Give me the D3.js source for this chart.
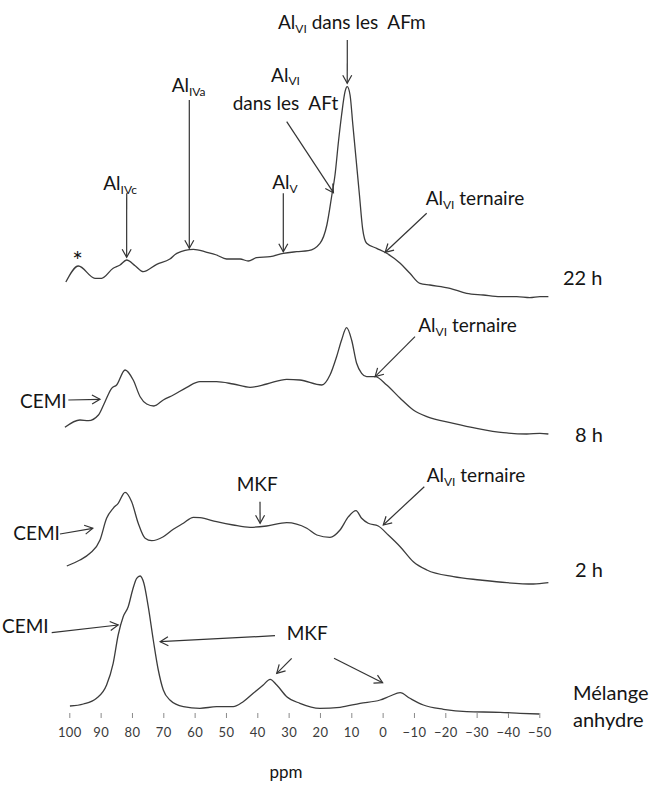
<!DOCTYPE html>
<html>
<head>
<meta charset="utf-8">
<script src="https://cdn.jsdelivr.net/npm/d3@7"></script>
<style>
  body { margin: 0; background: #fff; }
  svg text { font-family: Lato, "Noto Sans", sans-serif; fill: #151515; white-space: pre; }
</style>
</head>
<body>
<svg id="chart"></svg>
<script>
// 27Al NMR spectra: chemical shift (ppm) and intensity (a.u.)
const ppm22h = [101.1, 97.1, 91.8, 89.7, 86.0, 83.8, 81.7, 79.0, 76.4, 72.1, 67.9, 65.7, 60.4, 56.1, 53.0, 49.8, 45.5, 42.9, 40.2, 35.9, 31.7, 27.4, 23.7, 20.0, 17.8, 16.2, 15.2, 14.1, 13.1, 12.0, 11.3, 10.4, 9.5, 8.5, 7.4, 6.4, 5.1, 1.9, -1.3, -5.6, -8.7, -11.9, -15.1, -21.5, -26.8, -32.1, -37.5, -42.8, -47.0, -50.2, -52.9];
const int22h = [15, 31, 18.7, 18.7, 28.7, 32, 37, 31.3, 25.3, 32.7, 38, 43.7, 47.7, 44.7, 42, 38, 38, 36, 39.3, 40.3, 43.7, 45.3, 46.3, 53.7, 72, 102, 122, 155.3, 182, 205.3, 210.3, 202, 172, 138.7, 102, 68.7, 53.7, 48.7, 43.7, 33.7, 23.7, 13.7, 12, 8.7, 3.7, 2, 0.3, 0.3, -0.7, 0.3, 0.3];

const ppm8h = [101.4, 96.6, 93.9, 90.7, 88.6, 86.5, 84.9, 82.2, 79.6, 77.4, 75.3, 73.0, 70.0, 66.8, 62.5, 58.3, 53.0, 47.7, 42.3, 37.0, 30.6, 26.4, 19.4, 16.8, 14.7, 13.1, 11.5, 9.9, 8.3, 6.7, 5.1, 2.4, -1.3, -5.6, -9.8, -14.1, -22.6, -30.0, -38.5, -46.0, -50.2, -52.9];
const int8h = [6.7, 14, 13.3, 19, 32.3, 45.7, 49, 64, 54, 37.3, 30, 28, 34, 39, 46.7, 52.3, 52.3, 50, 46.7, 50, 54.7, 54, 49, 59, 77.3, 94, 106.3, 94, 70.7, 60.7, 57.3, 57.3, 49, 35.7, 24, 17.3, 10.7, 5.7, 1.3, 0, 0.7, 0];

const ppm2h = [100.8, 96.6, 93.4, 90.2, 88.1, 86.0, 84.4, 82.2, 80.1, 78.0, 75.8, 73.7, 70.0, 66.8, 63.6, 60.4, 58.3, 53.0, 47.7, 42.3, 37.0, 30.6, 24.2, 21.0, 16.8, 13.6, 10.9, 8.5, 6.7, 4.6, 1.4, -1.8, -5.6, -9.8, -14.1, -22.6, -31.1, -39.6, -48.1, -52.9];
const int2h = [17, 23, 29.7, 43, 64.7, 74.7, 79.7, 90.7, 81.3, 59.7, 44.7, 42.3, 46.3, 53.7, 59.7, 65.7, 65.3, 61.3, 58, 55.7, 57, 60.3, 54.7, 48, 45.7, 53, 66.3, 72.3, 64.7, 59.7, 57, 48, 36.3, 21.3, 13, 6.3, 3, 0.3, -1, 0.3];

const ppmAnh = [99.8, 95.5, 91.3, 88.1, 86.0, 84.4, 82.8, 81.2, 79.8, 78.5, 77.4, 76.2, 74.8, 73.2, 71.6, 70.0, 67.9, 63.6, 58.3, 53.0, 47.7, 44.5, 41.3, 38.1, 35.9, 33.8, 30.6, 26.4, 20.0, 13.6, 7.2, 0.8, -2.4, -5.6, -8.7, -13.0, -19.4, -26.8, -37.5, -43.9, -50.0];
const intAnh = [7, 9, 14.7, 28, 49.7, 78, 96.3, 106.3, 123, 134.7, 137, 129.7, 106.3, 73, 43, 23, 13, 6.3, 4.7, 6.3, 6.3, 11.3, 19.7, 28, 33.7, 28, 16.3, 9.7, 4.7, 5.7, 9.7, 13, 17, 20.3, 14.7, 8, 3.7, 1.3, 0.7, -0.3, -1];

const seriesNames = ["22 h", "8 h", "2 h", "Mélange\nanhydre"];
const tickValues = [100, 90, 80, 70, 60, 50, 40, 30, 20, 10, 0, -10, -20, -30, -40, -50];

// layout
const width = 656, height = 787;
const stackOffset = [416, 279, 130, 0];           // vertical shift of each spectrum (a.u.)
const namePos = [[563, 285], [575, 442], [575, 577], [573, 700]];

const series = [
  { ppm: ppm22h, val: int22h },
  { ppm: ppm8h, val: int8h },
  { ppm: ppm2h, val: int2h },
  { ppm: ppmAnh, val: intAnh }
];

const svg = d3.select('#chart')
    .attr('width', width)
    .attr('height', height);

const x = d3.scaleLinear().domain([100, -50]).range([69.3, 539.3]);
const y = d3.scaleLinear().domain([0, 700]).range([713, 13]);

// arrow head (open V)
svg.append('defs').append('marker')
    .attr('id', 'head')
    .attr('viewBox', '-10 -6 12 12')
    .attr('markerWidth', 12).attr('markerHeight', 12)
    .attr('markerUnits', 'userSpaceOnUse')
    .attr('refX', 0).attr('refY', 0)
    .attr('orient', 'auto')
  .append('path')
    .attr('d', 'M-8,-4.5L0,0L-8,4.5')
    .attr('fill', 'none')
    .attr('stroke', '#333')
    .attr('stroke-width', 1.2);

// spectra
const line = d3.line()
    .x(d => x(d[0]))
    .y(d => y(d[1]))
    .curve(d3.curveMonotoneX);

series.forEach((s, i) => {
  const pts = s.ppm.map((p, k) => [p, s.val[k] + stackOffset[i]]);
  svg.append('path')
      .datum(pts)
      .attr('fill', 'none')
      .attr('stroke', '#3c3c3c')
      .attr('stroke-width', 1.3)
      .attr('stroke-linejoin', 'round')
      .attr('d', line);
});

// x axis (ticks only)
const axis = svg.append('g')
    .attr('transform', 'translate(0,' + y(0) + ')')
    .call(d3.axisBottom(x).tickValues(tickValues).tickSize(5).tickPadding(10));
axis.select('.domain').remove();
axis.selectAll('.tick line').attr('stroke', '#8a8a8a');
axis.selectAll('.tick text')
    .style('font-size', '13px')
    .style('letter-spacing', '0.4px')
    .style('fill', '#3a3a3a');

svg.append('text')
    .attr('x', 286).attr('y', 778)
    .attr('text-anchor', 'middle')
    .style('font-size', '17px')
    .text('ppm');

// series names on the right
seriesNames.forEach((name, i) => {
  const t = svg.append('text')
      .attr('x', namePos[i][0]).attr('y', namePos[i][1])
      .style('font-size', '20px');
  name.split('\n').forEach((ln, k) => {
    t.append('tspan').attr('x', namePos[i][0]).attr('dy', k ? 27 : 0).text(ln);
  });
});

// annotations: label parts ("_" prefix = subscript), label position, arrows [tail px, tip (ppm, series, a.u.)]
const AlVI = ['Al', '_VI'];
const annotations = [
  { parts: [...AlVI, ' dans les  AFm'], at: [278, 29], arrows: [[[347.3, 40], [11.3, 0, 213.7]]] },
  { parts: ['Al', '_IVa'], at: [171.7, 91.7], arrows: [[[189.3, 100], [61.7, 0, 48.7]]] },
  { parts: AlVI, at: [285.5, 82], anchor: 'middle', sub: 3, arrows: [] },
  { parts: ['dans les  AFt'], at: [285.5, 109.5], anchor: 'middle', arrows: [[[286.7, 121.7], [15.7, 0, 104.3]]] },
  { parts: ['Al', '_IVc'], at: [103.3, 190], arrows: [[[126.7, 193.3], [81.7, 0, 39.7]]] },
  { parts: ['Al', '_V'], at: [272.3, 189.3], arrows: [[[283.3, 193.3], [31.7, 0, 45.3]]] },
  { parts: [...AlVI, ' ternaire'], at: [425.7, 205], arrows: [[[426.7, 213.3], [-0.8, 0, 44.7]]] },
  { parts: ['*'], at: [77.5, 270], anchor: 'middle', size: 25, arrows: [] },
  { parts: [...AlVI, ' ternaire'], at: [418.3, 331.7], arrows: [[[415, 336.7], [2.4, 1, 57.3]]] },
  { parts: ['CEMI'], at: [20, 408.3], arrows: [[[68.3, 400], [90.2, 1, 34.7]]] },
  { parts: ['CEMI'], at: [13.3, 540], arrows: [[[60, 534], [92.5, 2, 54.7]]] },
  { parts: ['MKF'], at: [236.7, 490.7], arrows: [[[260, 501.7], [39.1, 2, 59.7]]] },
  { parts: [...AlVI, ' ternaire'], at: [426.7, 481.7], arrows: [[[424.3, 486.7], [-0.2, 2, 58]]] },
  { parts: ['CEMI'], at: [2, 633.3], arrows: [[[51.7, 632.7], [84.4, 3, 88]]] },
  { parts: ['MKF'], at: [286.7, 640], arrows: [
      [[275, 635.7], [71.0, 3, 71.3]],
      [[291.7, 658.3], [33.8, 3, 39.7]],
      [[334, 658.3], [0.0, 3, 30.3]]
  ] }
];

annotations.forEach(a => {
  const t = svg.append('text')
      .attr('x', a.at[0]).attr('y', a.at[1])
      .attr('text-anchor', a.anchor || 'start')
      .style('font-size', (a.size || 19) + 'px');
  const drop = a.sub || 4;
  let shifted = false;
  a.parts.forEach(p => {
    const sub = p.startsWith('_');
    const ts = t.append('tspan').text(sub ? p.slice(1) : p);
    if (sub) { ts.attr('dy', drop).style('font-size', '12px'); shifted = true; }
    else if (shifted) { ts.attr('dy', -drop); shifted = false; }
  });
  a.arrows.forEach(([tail, tip]) => {
    svg.append('line')
        .attr('x1', tail[0]).attr('y1', tail[1])
        .attr('x2', x(tip[0])).attr('y2', y(tip[2] + stackOffset[tip[1]]))
        .attr('stroke', '#333')
        .attr('stroke-width', 1.2)
        .attr('marker-end', 'url(#head)');
  });
});
</script>
</body>
</html>
